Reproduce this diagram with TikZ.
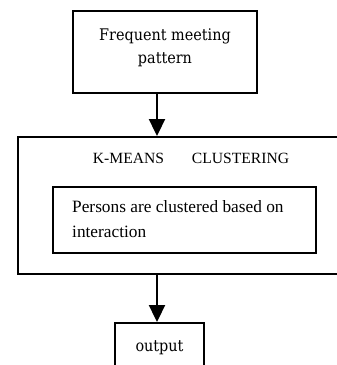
\documentclass[tikz,border=0pt]{standalone}
\usepackage{fontspec}
\newfontfamily\timesf{Liberation Serif}
\newfontfamily\camf{DejaVu Serif Condensed}
\usetikzlibrary{arrows.meta}
\tikzset{
  boxline/.style={draw=black, line width=1.8pt, rectangle, inner sep=0pt},
  arr/.style={draw=black, line width=2.3pt, -{Triangle[length=17pt,width=16pt]}},
  cam/.style={inner sep=0pt, anchor=base, font=\camf\fontsize{16}{19}\selectfont},
  tms/.style={inner sep=0pt, anchor=base, font=\timesf\fontsize{17.3}{21}\selectfont},
}
\begin{document}
\begin{tikzpicture}[x=1pt,y=-1pt]
\useasboundingbox (0,0) rectangle (337,365);
\clip (0,0) rectangle (337,365);
% boxes
\node[boxline, minimum width=184pt, minimum height=82pt] (top) at (165,52) {};
\node[boxline, minimum width=340pt, minimum height=137pt, anchor=north west] (big) at (17,136) {};
\node[boxline, minimum width=263pt, minimum height=66pt, anchor=north west] (inner) at (52,186) {};
\node[boxline, minimum width=89pt, minimum height=70pt, anchor=north west] (out) at (114,322) {};
% texts
\node[cam] (t1) at (165,40) {Frequent meeting};
\node[cam] (t2) at (165,63) {pattern};
\node[tms, font=\timesf\fontsize{15.6}{19}\selectfont] (km) at (191,163) {K-MEANS\hspace{28pt}CLUSTERING};
\node[tms, anchor=base west] (p1) at (72,212.7) {Persons are clustered based on};
\node[tms, anchor=base west] (p2) at (72,237) {interaction};
\node[cam] (ot) at (159.5,351) {output};
% arrows
\coordinate (ax) at (157,0);
\draw[arr] (top.south -| ax) -- (big.north -| ax);
\draw[arr] (big.south -| ax) -- (out.north -| ax);
\end{tikzpicture}
\end{document}
